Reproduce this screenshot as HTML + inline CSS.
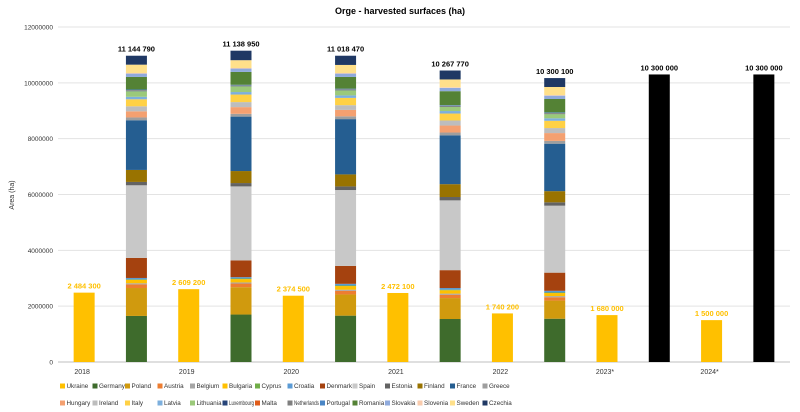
<!DOCTYPE html>
<html><head><meta charset="utf-8"><style>
html,body{margin:0;padding:0;background:#fff;}
svg{display:block;font-family:"Liberation Sans",sans-serif;}
</style></head><body>
<svg id="chart" width="800" height="412" viewBox="0 0 800 412">
<text x="400" y="14" text-anchor="middle" font-size="9" font-weight="bold" fill="#000">Orge - harvested surfaces (ha)</text>
<text transform="translate(14,195) rotate(-90)" text-anchor="middle" font-size="7" fill="#333">Area (ha)</text>
<g id="grid"></g><g id="bars"></g><g id="labels"></g><g id="legend"></g>
</svg>
<script>
const yTicks=[0,2000000,4000000,6000000,8000000,10000000,12000000];
const yearLabels=["2018","2019","2020","2021","2022","2023*","2024*"];
const ukraine=[2484300,2609200,2374500,2472100,1740200,1680000,1500000];
const ukraineLabels=["2 484 300","2 609 200","2 374 500","2 472 100","1 740 200","1 680 000","1 500 000"];
const euTotalLabels=["11 144 790","11 138 950","11 018 470","10 267 770","10 300 100","10 300 000","10 300 000"];
const euEstimate=[0,0,0,0,0,10300000,10300000];
const countries=["Germany","Poland","Austria","Belgium","Bulgaria","Cyprus","Croatia","Denmark","Spain","Estonia","Finland","France","Greece","Hungary","Ireland","Italy","Latvia","Lithuania","Luxembourg","Malta","Netherlands","Portugal","Romania","Slovakia","Slovenia","Sweden","Czechia"];
const colors=["#3e6b2c","#d09a0e","#ed7d31","#a5a5a5","#ffc000","#70ad47","#5b9bd5","#a5420f","#c8c8c8","#636363","#997300","#255e91","#9e9e9e","#f4a070","#bdbdbd","#ffd145","#7cafdd","#9bc97a","#264478","#e05c1a","#7f7f7f","#4a86c5","#548235","#8faadc","#f8cbad","#ffe08a","#1f3864"];
// values in millions of ha, cols = 2018..2022
const germany=[1.65,1.70,1.66,1.54,1.55];
const poland=[1.00,0.98,0.76,0.75,0.65];
const austria=[0.13,0.13,0.13,0.12,0.12];
const belgium=[0.04,0.04,0.04,0.04,0.04];
const bulgaria=[0.12,0.12,0.13,0.12,0.11];
const cyprus=[0.02,0.02,0.02,0.02,0.02];
const croatia=[0.05,0.05,0.06,0.06,0.06];
const denmark=[0.72,0.60,0.64,0.64,0.65];
const spain=[2.60,2.65,2.72,2.50,2.40];
const estonia=[0.12,0.12,0.13,0.12,0.12];
const finland=[0.43,0.43,0.43,0.46,0.40];
const france=[1.78,1.95,1.98,1.75,1.70];
const greece=[0.10,0.10,0.10,0.10,0.10];
const hungary=[0.22,0.24,0.23,0.25,0.28];
const ireland=[0.18,0.18,0.17,0.18,0.18];
const italy=[0.25,0.27,0.26,0.25,0.26];
const latvia=[0.09,0.09,0.09,0.09,0.09];
const lithuania=[0.20,0.20,0.18,0.15,0.15];
const luxembourg=[0.01,0.01,0.01,0.01,0.01];
const malta=[0.001,0.001,0.001,0.001,0.001];
const netherlands=[0.03,0.03,0.03,0.03,0.03];
const portugal=[0.02,0.02,0.02,0.02,0.02];
const romania=[0.45,0.46,0.42,0.50,0.48];
const slovakia=[0.12,0.12,0.12,0.12,0.12];
const slovenia=[0.02,0.02,0.02,0.02,0.02];
const sweden=[0.30,0.28,0.29,0.28,0.29];
const czechia=[0.32,0.34,0.33,0.32,0.32];
const series=[germany,poland,austria,belgium,bulgaria,cyprus,croatia,denmark,spain,estonia,finland,france,greece,hungary,ireland,italy,latvia,lithuania,luxembourg,malta,netherlands,portugal,romania,slovakia,slovenia,sweden,czechia];

const NS="http://www.w3.org/2000/svg";
const X0=58,X1=790,Y0=362,YTOP=27,YMAX=12000000;
const slot=(X1-X0)/14,bw=21;
function y(v){return Y0-(v/YMAX)*(Y0-YTOP);}
function cx(i){return X0+slot*(i+0.5);}
function mk(tag,attrs,parent){const e=document.createElementNS(NS,tag);for(const k in attrs)e.setAttribute(k,attrs[k]);parent.appendChild(e);return e;}
const grid=document.getElementById('grid'),bars=document.getElementById('bars'),labels=document.getElementById('labels'),legend=document.getElementById('legend');
yTicks.forEach(t=>{
  const l=mk('line',{x1:X0,x2:X1,y1:y(t),y2:y(t),stroke:t===0?'#bfbfbf':'#e3e3e3','stroke-width':1},grid);
  
  
  const tx=mk('text',{x:53,y:y(t)+2.5,'text-anchor':'end','font-size':6.5,fill:'#333'},grid);
  tx.textContent=String(t);
  
  
});
yearLabels.forEach((lab,g)=>{
  const xu=cx(2*g),xe=cx(2*g+1);
  const r=mk('rect',{x:xu-bw/2,y:y(ukraine[g]),width:bw,height:Y0-y(ukraine[g]),fill:'#ffc000'},bars);
  
  
  const ul=mk('text',{x:xu,y:y(ukraine[g])-4,'text-anchor':'middle','font-size':7.5,'font-weight':'bold',fill:'#ffc000'},labels);
  ul.textContent=ukraineLabels[g];
  
  
  const yl=mk('text',{x:xu-2,y:374,'text-anchor':'middle','font-size':7,fill:'#333'},labels);
  yl.textContent=lab;
  
  
  let top;
  if(g<5){
    let acc=0;
    series.forEach((s,k)=>{
      const v=s[g]*1e6;
      const rr=mk('rect',{x:xe-bw/2,y:y(acc+v),width:bw,height:Math.max(0,y(acc)-y(acc+v)),fill:colors[k]},bars);
      
      
      acc+=v;
    });
    top=y(acc);
  } else {
    const rr=mk('rect',{x:xe-bw/2,y:y(euEstimate[g]),width:bw,height:Y0-y(euEstimate[g]),fill:'#000'},bars);
    
    
    top=y(euEstimate[g]);
  }
  const tl=mk('text',{x:xe,y:top-4,'text-anchor':'middle','font-size':7.5,'font-weight':'bold',fill:'#000'},labels);
  tl.textContent=euTotalLabels[g];
  
  
});
const legNames=["Ukraine"].concat(countries),legColors=["#ffc000"].concat(colors);
legNames.forEach((n,i)=>{
  const row=Math.floor(i/14),col=i%14;
  const lx=60+col*32.5,ly=388+row*17;
  const g=mk('g',{},legend);
  
  
  mk('rect',{x:lx,y:ly-4.5,width:5,height:5,fill:legColors[i]},g);
  const t=mk('text',{x:lx+6.5,y:ly,'font-size':6.3,fill:'#333'},g);
  t.textContent=n;
  if(n.length>8){t.setAttribute('textLength','25');t.setAttribute('lengthAdjust','spacingAndGlyphs');}
});
</script>
</body></html>
